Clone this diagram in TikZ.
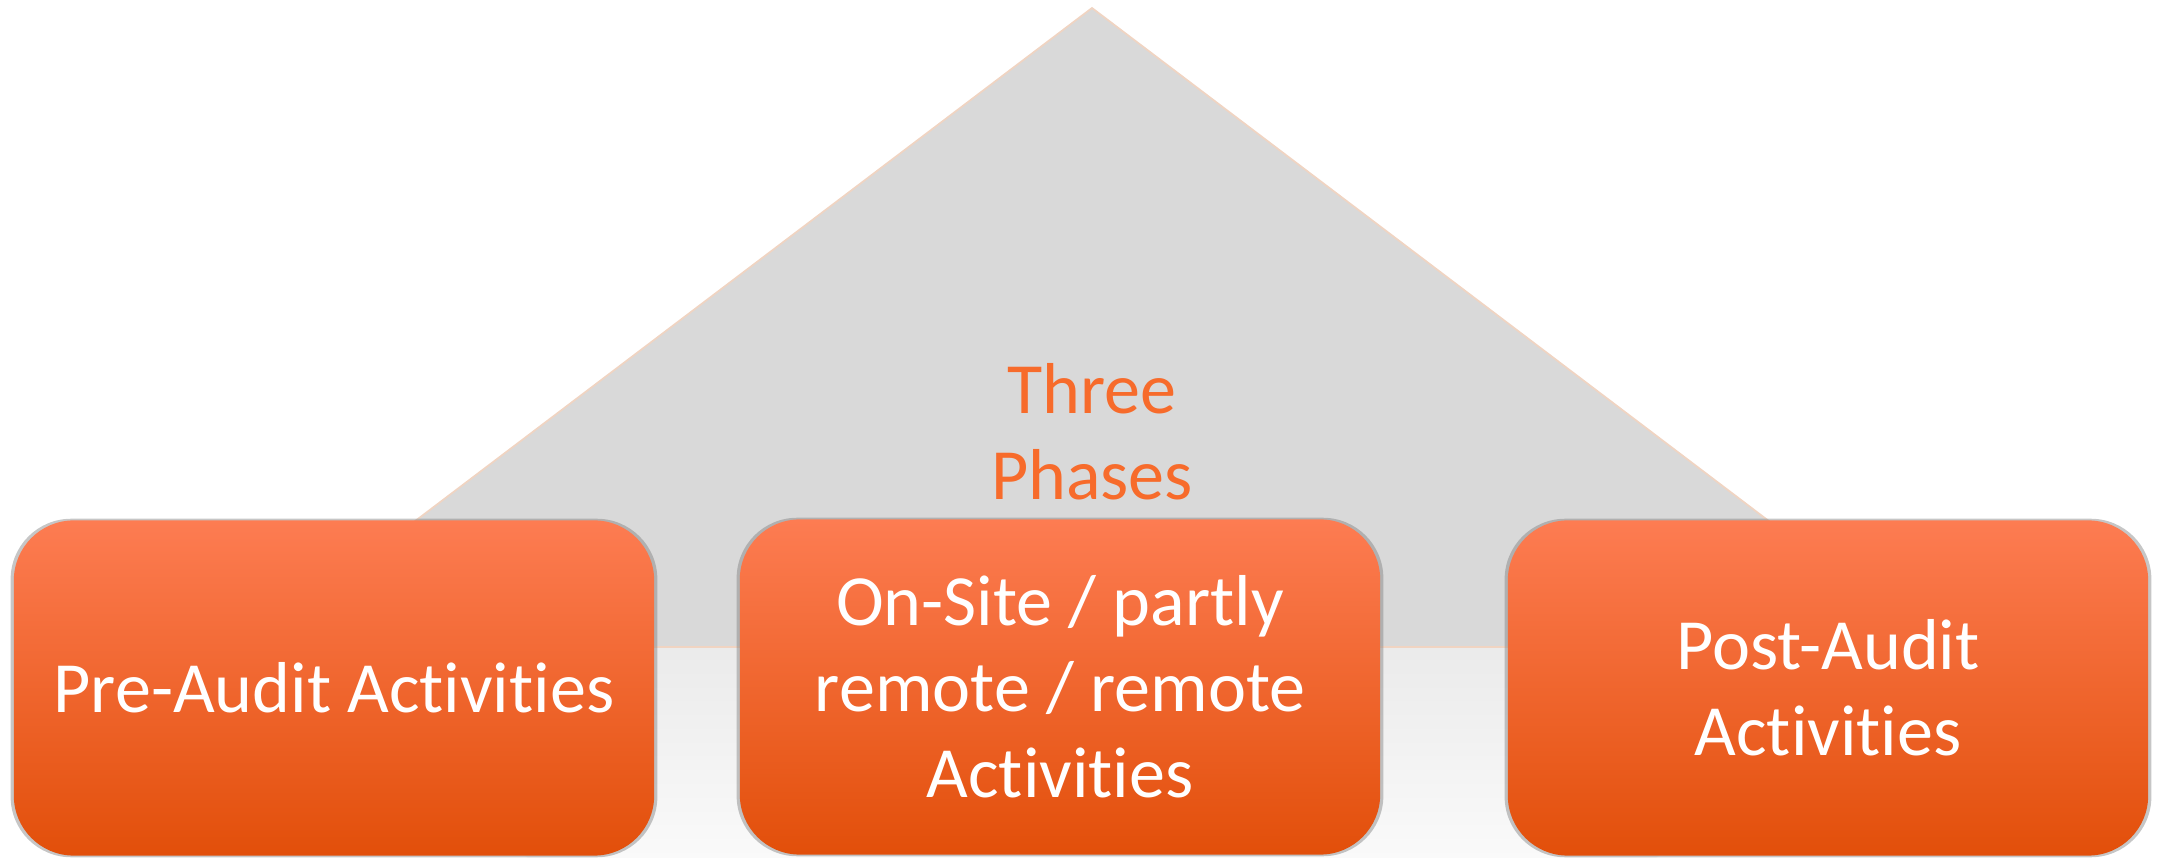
\documentclass[tikz,border=0pt]{standalone}
\usepackage{fontspec}
\setmainfont{Carlito}[Ligatures=NoCommon]
\usetikzlibrary{shadows}
\definecolor{phasetop}{RGB}{253,124,82}
\definecolor{phasemid}{RGB}{255,99,26}
\definecolor{phasebot}{RGB}{226,79,10}
\definecolor{roofgray}{RGB}{217,217,217}
\definecolor{roofedge}{RGB}{240,212,194}
\definecolor{labelorange}{RGB}{247,107,43}

\begin{document}
\begin{tikzpicture}[
      x=0.01cm, y=-0.01cm,
      phasebox/.style={rounded corners=0.6cm, minimum width=6.4cm,
                       minimum height=3.35cm, inner sep=0pt,
                       top color=phasetop, middle color=phasemid,
                       bottom color=phasebot,
                       drop shadow={shadow xshift=0pt, shadow yshift=0pt,
                                    shadow scale=1.01, opacity=0.45},
                       text=white, align=center,
                       font=\fontsize{20.5}{24.5}\selectfont},
      phaselabel/.style={text=labelorange, align=center,
                         font=\fontsize{20.5}{24.5}\selectfont}
  ]
      \useasboundingbox (0,0) rectangle (2159,858);

      % Dach und Spiegelung
      \shade[top color=black!8, bottom color=black!2]
          (249,647) -- (1935,647) -- (1656,858) -- (528,858) -- cycle;
      \fill[roofgray] (1092,8) -- (1935,647) -- (249,647) -- cycle;
      \draw[roofedge, line width=0.5pt] (249,647) -- (1092,8) -- (1935,647);
      \draw[roofedge, line width=0.5pt] (249,647) -- (1935,647);

      \node[phaselabel] (phases) at (1092,432) {Three\\Phases};

      % Phasen
      \node[phasebox] (pre) at (334,688) {Pre-Audit Activities};
      \node[phasebox] (onsite) at (1060,687) {On-Site / partly\\remote / remote\\Activities};
      \node[phasebox] (post) at (1828,688) {Post-Audit\\Activities};
  \end{tikzpicture}
\end{document}
